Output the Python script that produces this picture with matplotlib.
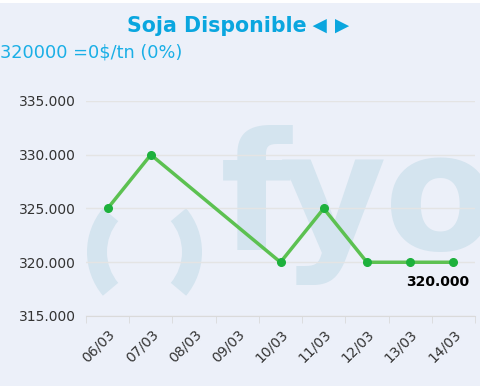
import matplotlib
matplotlib.use("Agg")
import matplotlib.pyplot as plt
from matplotlib.patches import Wedge, Rectangle
from matplotlib.ticker import FuncFormatter

# datos
fechas = ["06/03", "07/03", "08/03", "09/03", "10/03", "11/03", "12/03", "13/03", "14/03"]
precios = [325000, 330000, None, None, 320000, 325000, 320000, 320000, 320000]
y_ticks = [315000, 320000, 325000, 330000, 335000]

titulo = "Soja Disponible"
flechas = "\u25c4\u25ba"
subtitulo = "320000 =0$/tn (0%)"
ultimo = "320.000"

fondo = "#ECF0F9"
marca = "#D4E4EF"
azul = "#0AA6DF"

fig = plt.figure(figsize=(4.8, 3.86), dpi=100, facecolor=fondo)

# capa de fondo en pixeles (marca de agua)
bg = fig.add_axes([0, 0, 1, 1], zorder=0)
bg.set_xlim(0, 480)
bg.set_ylim(386, 0)
bg.axis("off")
bg.add_patch(Rectangle((0, 0), 480, 3, color="white", lw=0))
bg.add_patch(Wedge((155, 252), 68, 140, 220, width=20, color=marca, lw=0))
bg.add_patch(Wedge((134, 252), 68, -40, 40, width=20, color=marca, lw=0))
for letra, xl in [("f", 220), ("y", 279), ("o", 384)]:
    bg.text(xl, 250, letra, fontsize=118, fontweight="bold", color=marca,
            ha="left", va="baseline", family="DejaVu Sans")

fig.text(307 / 480, 1 - 32 / 386, titulo, ha="right", va="baseline",
         fontsize=14.8, fontweight="bold", color=azul)
fig.text(307 / 480, 1 - 33 / 386, flechas, ha="left", va="baseline",
         fontsize=17, fontweight="bold", color=azul,
         family=["Liberation Sans", "DejaVu Sans"])
fig.text(0, 1 - 57 / 386, subtitulo, ha="left", va="baseline",
         fontsize=12.8, color="#1AAFE6")

ax = fig.add_axes([86 / 480, 1 - 316 / 386, (475 - 86) / 480, (316 - 101) / 386], zorder=1)
ax.set_facecolor("none")

xs = [i for i, v in enumerate(precios) if v is not None]
ys = [v for v in precios if v is not None]
ax.plot(xs, ys, color="#5CC151", lw=2.5, marker="o", markersize=5.5,
        markerfacecolor="#1DB13C", markeredgecolor="#1DB13C", zorder=3)

ax.annotate(ultimo, (xs[-1], ys[-1]), xytext=(-16, -20), textcoords="offset pixels",
            ha="center", va="center", fontsize=10, fontweight="bold", color="black")

ax.set_xlim(-0.5, len(fechas) - 0.5)
ax.set_ylim(315000, 335000)
ax.set_yticks(y_ticks)
ax.yaxis.set_major_formatter(FuncFormatter(lambda v, p: f"{v:,.0f}".replace(",", ".")))
ax.set_xticks(range(len(fechas)))
ax.set_xticklabels(fechas, rotation=45, ha="right", rotation_mode="anchor")
ax.set_xticks([i - 0.5 for i in range(len(fechas) + 1)], minor=True)

ax.grid(axis="y", color="#E4E4E4", lw=1)
ax.set_axisbelow(True)
for s in ["top", "right", "left"]:
    ax.spines[s].set_visible(False)
ax.spines["bottom"].set_color("#DADADA")
ax.tick_params(axis="y", length=0, pad=7, labelsize=10, labelcolor="#333333")
ax.tick_params(axis="x", which="major", length=0, pad=8, labelsize=10, labelcolor="#333333")
ax.tick_params(axis="x", which="minor", length=5, color="#DADADA")

fig.savefig("out.png", dpi=100, facecolor=fondo)
